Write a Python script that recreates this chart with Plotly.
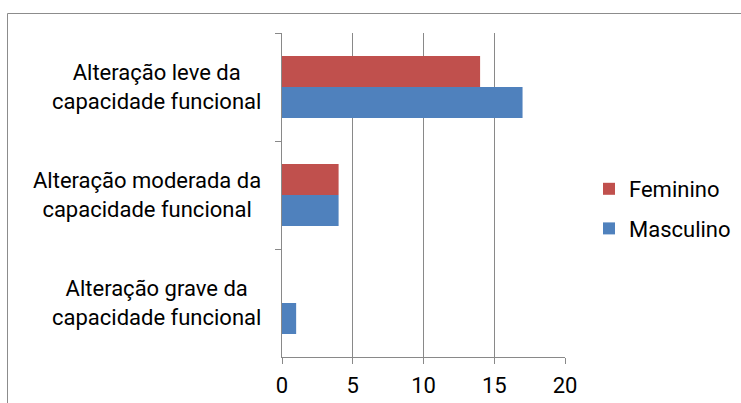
import plotly.graph_objects as go

categories = ["Alteração leve da<br>capacidade funcional",
              "Alteração moderada da<br>capacidade funcional",
              "Alteração grave da<br>capacidade funcional"]
feminino = [14, 4, 0]
masculino = [17, 4, 1]
x_ticks = [0, 5, 10, 15, 20]

RED = "#C0504D"
BLUE = "#4F81BD"
GRID = "#898989"
FONT = "Roboto"

L, R, T, B = 282, 176, 33, 46
W, H = 741, 403
pw = W - L - R
ph = H - T - B

fig = go.Figure()
fig.add_trace(go.Bar(y=categories, x=feminino, orientation="h", name="Feminino",
                     marker=dict(color=RED, line=dict(width=0)), legendgroup="f"))
fig.add_trace(go.Bar(y=categories, x=masculino, orientation="h", name="Masculino",
                     marker=dict(color=BLUE, line=dict(width=0)), legendgroup="m"))

for c in categories:
    fig.add_annotation(text=c, xref="paper", yref="y", x=(263 - L) / pw, y=c,
                       xanchor="right", yanchor="middle", align="center",
                       showarrow=False, font=dict(family=FONT, size=22, color="#000"))

# outer chart border
fig.add_shape(type="rect", xref="paper", yref="paper",
              x0=(7.5 - L) / pw, x1=(760 - L) / pw,
              y0=(H - B - 420) / ph, y1=(H - B - 13.5) / ph,
              line=dict(color="#8c8c8c", width=1), fillcolor="rgba(0,0,0,0)", layer="below")

fig.update_layout(
    width=W, height=H,
    margin=dict(l=L, r=R, t=T, b=B, autoexpand=False),
    paper_bgcolor="white", plot_bgcolor="white",
    barmode="group", bargap=0.426, bargroupgap=0,
    font=dict(family=FONT, size=22, color="#000"),
    showlegend=True,
    legend=dict(x=(589 - L) / pw, y=(H - B - 209) / ph, xanchor="left", yanchor="middle",
                traceorder="grouped", tracegroupgap=8,
                font=dict(family=FONT, size=22, color="#000"),
                bgcolor="rgba(0,0,0,0)"),
    xaxis=dict(range=[0, 20], tickvals=x_ticks, showgrid=True, gridcolor=GRID, gridwidth=1,
               showline=True, linecolor=GRID, linewidth=1, ticks="outside", ticklen=6,
               tickcolor=GRID, zeroline=False, ticklabelstandoff=3,
               tickfont=dict(family=FONT, size=22, color="#000")),
    yaxis=dict(autorange="reversed", showgrid=False, showline=True, linecolor=GRID, linewidth=1,
               ticks="outside", ticklen=6, tickcolor=GRID, tickson="boundaries",
               showticklabels=False),
)

fig.write_html("out.html", config={"displayModeBar": False},
               post_script="document.body.style.margin='0';")
